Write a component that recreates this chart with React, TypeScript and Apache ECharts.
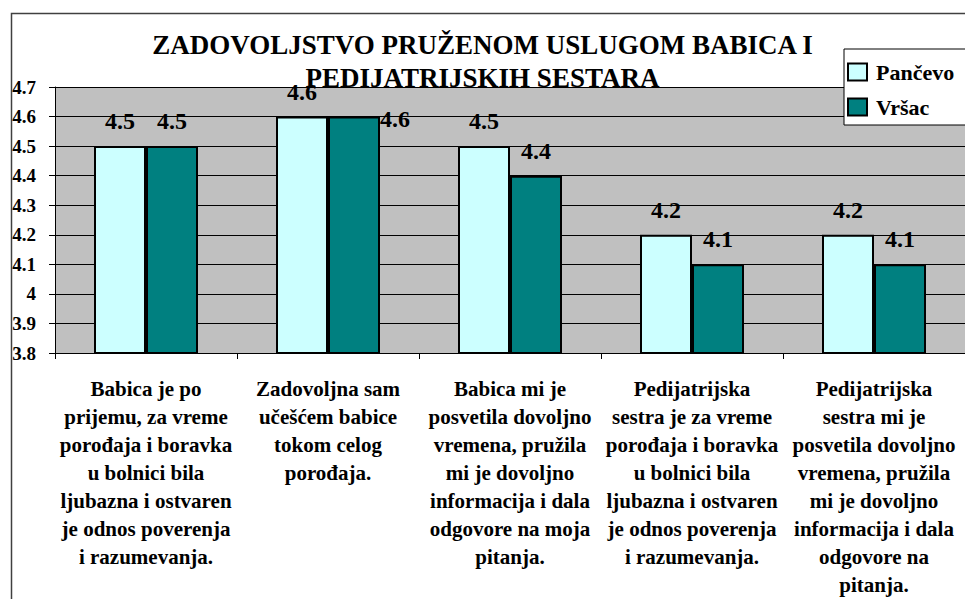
import React, { useEffect, useRef } from "react";
import * as echarts from "echarts";

const titleText = "ZADOVOLJSTVO PRUŽENOM USLUGOM BABICA I\nPEDIJATRIJSKIH SESTARA";

const categories = [
  "Babica je po\nprijemu, za vreme\nporođaja i boravka\nu bolnici bila\nljubazna i ostvaren\nje odnos poverenja\ni razumevanja.",
  "Zadovoljna sam\nučešćem babice\ntokom celog\nporođaja.",
  "Babica mi je\nposvetila dovoljno\nvremena, pružila\nmi je dovoljno\ninformacija i dala\nodgovore na moja\npitanja.",
  "Pedijatrijska\nsestra je za vreme\nporođaja i boravka\nu bolnici bila\nljubazna i ostvaren\nje odnos poverenja\ni razumevanja.",
  "Pedijatrijska\nsestra mi je\nposvetila dovoljno\nvremena, pružila\nmi je dovoljno\ninformacija i dala\nodgovore na\npitanja.",
];

const seriesNames = ["Pančevo", "Vršac"];
const pancevo = [4.5, 4.6, 4.5, 4.2, 4.2];
const vrsac = [4.5, 4.6, 4.4, 4.1, 4.1];

const yMin = 3.8;
const yMax = 4.7;
const yStep = 0.1;

const FONT = "Liberation Serif";

export default function App() {
  const ref = useRef<HTMLDivElement>(null);

  useEffect(() => {
    if (!ref.current) return;
    const chart = echarts.init(ref.current, undefined, { renderer: "svg" });

    const labelStyle = {
      show: true,
      position: "top" as const,
      distance: 13,
      fontFamily: FONT,
      fontWeight: "bold" as const,
      fontSize: 24,
      color: "#000",
      formatter: (p: any) => String(p.value),
    };

    const vrsacData = vrsac.map((v, i) =>
      i === 1
        ? {
            value: v,
            label: {
              position: [52, 2],
              align: "left",
              verticalAlign: "middle",
            },
          }
        : v
    );

    chart.setOption({
      animation: false,
      backgroundColor: "#ffffff",
      textStyle: { fontFamily: FONT },
      title: {
        text: titleText,
        left: "center",
        top: 28,
        padding: 0,
        textStyle: {
          fontFamily: FONT,
          fontWeight: "bold",
          fontSize: 27,
          lineHeight: 33,
          color: "#000",
          align: "center",
        },
      },
      legend: {
        left: 844,
        top: 49,
        orient: "vertical",
        backgroundColor: "#ffffff",
        borderColor: "#000",
        borderWidth: 1,
        padding: [12, 60, 7, 3],
        itemGap: 13,
        itemWidth: 19,
        itemHeight: 17,
        icon: "rect",
        itemStyle: { borderColor: "#000", borderWidth: 2 },
        textStyle: {
          fontFamily: FONT,
          fontWeight: "bold",
          fontSize: 22,
          color: "#000",
          padding: [0, 0, 0, 4],
        },
        data: seriesNames,
      },
      grid: {
        left: 55,
        top: 87,
        width: 917,
        height: 269,
        show: true,
        backgroundColor: "#C0C0C0",
        borderWidth: 0,
      },
      xAxis: {
        type: "category",
        data: categories,
        axisLine: { show: true, lineStyle: { color: "#000", width: 1 } },
        axisTick: { show: true, length: 6, lineStyle: { color: "#000" } },
        axisLabel: {
          interval: 0,
          margin: 22,
          fontFamily: FONT,
          fontWeight: "bold",
          fontSize: 21,
          lineHeight: 28,
          color: "#000",
          align: "center",
        },
        splitLine: { show: false },
      },
      yAxis: {
        type: "value",
        min: yMin,
        max: yMax,
        interval: yStep,
        axisLine: { show: true, lineStyle: { color: "#000", width: 1 } },
        axisTick: { show: true, length: 6, lineStyle: { color: "#000" } },
        axisLabel: {
          margin: 19,
          fontFamily: FONT,
          fontWeight: "bold",
          fontSize: 19,
          color: "#000",
          formatter: (v: number) => String(Math.round(v * 10) / 10),
        },
        splitLine: { show: true, lineStyle: { color: "#000", width: 1 } },
      },
      series: [
        {
          name: seriesNames[0],
          type: "bar",
          data: pancevo,
          barWidth: 52,
          barGap: "0%",
          itemStyle: { color: "#CCFFFF", borderColor: "#000", borderWidth: 2 },
          label: labelStyle,
        },
        {
          name: seriesNames[1],
          type: "bar",
          data: vrsacData,
          barWidth: 52,
          barGap: "0%",
          itemStyle: { color: "#008080", borderColor: "#000", borderWidth: 2 },
          label: labelStyle,
        },
      ],
      graphic: [
        {
          type: "rect",
          left: 9,
          top: 11,
          shape: { x: 0, y: 0, width: 990, height: 620 },
          style: { fill: "none", stroke: "#404040", lineWidth: 1.5 },
          silent: true,
          z: 100,
        },
      ],
    });

    return () => {
      chart.dispose();
    };
  }, []);

  return (
    <div
      ref={ref}
      style={{ position: "fixed", left: 0, top: 0, width: 965, height: 599 }}
    />
  );
}
